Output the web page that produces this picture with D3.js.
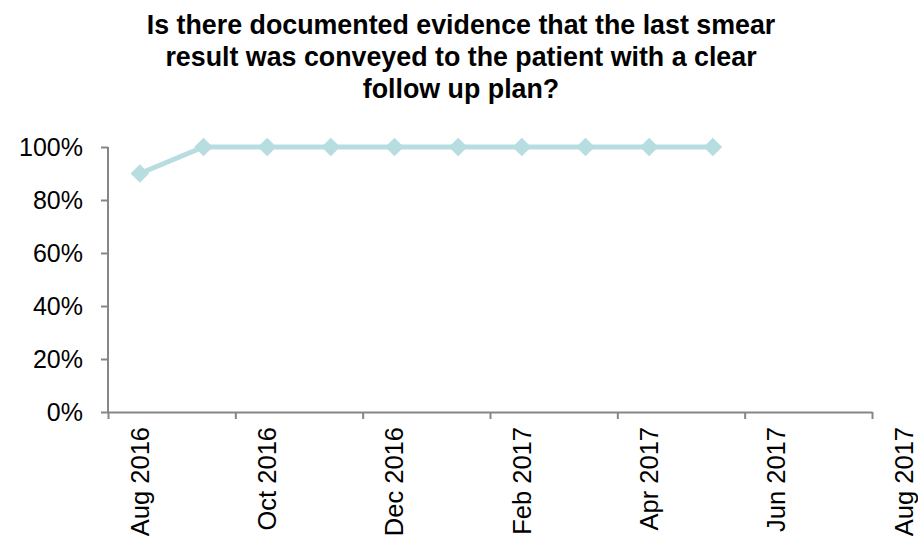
<!DOCTYPE html>
<html>
<head>
<meta charset="utf-8">
<style>
  body { margin: 0; background: #fff; }
  text { font-family: "Liberation Sans", Arial, sans-serif; fill: #000; }
</style>
</head>
<body>
<script src="https://cdn.jsdelivr.net/npm/d3@7/dist/d3.min.js"></script>
<script>

  const titleLines = ['Is there documented evidence that the last smear',
                      'result was conveyed to the patient with a clear',
                      'follow up plan?']

  // months from Aug 2016, index 0
  const months = ['Aug 2016', 'Sep 2016', 'Oct 2016', 'Nov 2016', 'Dec 2016', 'Jan 2017',
                  'Feb 2017', 'Mar 2017', 'Apr 2017', 'May 2017', 'Jun 2017', 'Jul 2017', 'Aug 2017']
  const values = [0.9, 1, 1, 1, 1, 1, 1, 1, 1, 1]
  const yTicks = [0, 0.2, 0.4, 0.6, 0.8, 1]
  const labelIdx = [0, 2, 4, 6, 8, 10, 12]

  const width = 918, height = 544
  const margin = {left: 108, right: 46, top: 147, bottom: 132}
  const colors = {line: '#b7dde1', axis: '#868686'}

  const svg = d3.select('body').append('svg')
      .attr('width', width)
      .attr('height', height)

  const xScale = d3.scaleLinear()
    .domain([-0.5, 11.5])
    .range([margin.left, width - margin.right])
  const yScale = d3.scaleLinear()
    .domain([0, 1])
    .range([height - margin.bottom, margin.top])

  // title
  svg.append('text')
      .attr('x', 461)
      .attr('y', 34)
      .style('text-anchor', 'middle')
      .style('font-weight', 'bold')
      .style('font-size', '26.8px')
    .selectAll('tspan')
    .data(titleLines)
    .enter().append('tspan')
      .attr('x', 461)
      .attr('dy', (d, i) => i == 0 ? 0 : 32)
      .text(d => d)

  // y axis
  const yAxis = d3.axisLeft(yScale)
    .tickValues(yTicks)
    .tickFormat(d3.format('.0%'))
    .tickSize(7)
    .tickPadding(18)
  const gY = svg.append('g')
      .attr('transform', `translate(${margin.left},0)`)
    .call(yAxis)
  gY.select('.domain').attr('stroke', colors.axis).attr('stroke-width', 2).attr('d', `M0,${yScale(1)}V${yScale(0)}`)
  gY.selectAll('.tick line').attr('stroke', colors.axis).attr('stroke-width', 2)
  gY.selectAll('.tick text')
      .style('font-family', '"Liberation Sans", Arial, sans-serif')
      .style('font-size', '25px')
      .attr('fill', '#000')

  // x axis: ticks on month boundaries every 2 months
  const tickPos = d3.range(-0.5, 12, 2)
  const xAxis = d3.axisBottom(xScale)
    .tickValues(tickPos)
    .tickFormat('')
    .tickSize(7)
    .tickSizeOuter(0)
  const gX = svg.append('g')
      .attr('transform', `translate(0,${yScale(0)})`)
    .call(xAxis)
  gX.select('.domain').attr('stroke', colors.axis).attr('stroke-width', 2)
  gX.selectAll('.tick line').attr('stroke', colors.axis).attr('stroke-width', 2)

  svg.append('g').selectAll('text')
    .data(labelIdx)
    .enter().append('text')
      .attr('transform', d => `translate(${xScale(d)},${yScale(0) + 15}) rotate(-90)`)
      .attr('dy', '0.35em')
      .style('text-anchor', 'end')
      .style('font-size', '25.5px')
      .text(d => months[d])

  // series
  const line = d3.line()
    .x((d, i) => xScale(i))
    .y(d => yScale(d))

  svg.append('path')
      .datum(values)
      .attr('d', line)
      .attr('fill', 'none')
      .attr('stroke', colors.line)
      .attr('stroke-width', 5)

  svg.append('g').selectAll('path')
    .data(values)
    .enter().append('path')
      .attr('d', d3.symbol().type(d3.symbolDiamond2).size(220))
      .attr('transform', (d, i) => `translate(${xScale(i)},${yScale(d)})`)
      .attr('fill', colors.line)

</script>
</body>
</html>
